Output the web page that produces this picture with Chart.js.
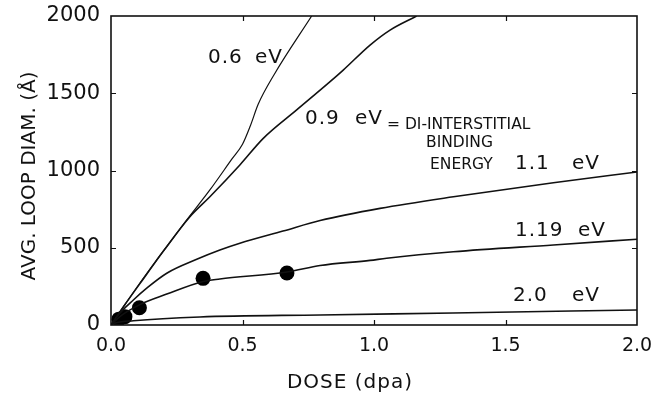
<!DOCTYPE html>
<html>
<head>
<meta charset="utf-8">
<script src="https://cdn.jsdelivr.net/npm/chart.js@4/dist/chart.umd.min.js"></script>
<style>
html,body{margin:0;padding:0;background:#fff;}
#wrap{width:655px;height:400px;}
</style>
</head>
<body>
<div id="wrap"><canvas id="c" width="655" height="400"></canvas></div>
<script>
// ---- data ----
const seriesNames = ['0.6 eV', '0.9 eV', '1.1 eV', '1.19 eV', '2.0 eV'];
const xTickValues = [0, 0.5, 1.0, 1.5, 2.0];
const yTickValues = [0, 500, 1000, 1500, 2000];

const dose06 = [0, 0.05, 0.11, 0.174, 0.288, 0.376, 0.46, 0.50, 0.53, 0.56, 0.62, 0.763];
const diam06 = [0, 125, 272, 421, 680, 874, 1075, 1170, 1290, 1430, 1620, 2000];

const dose09 = [0, 0.05, 0.11, 0.20, 0.30, 0.376, 0.49, 0.579, 0.706, 0.833, 0.883, 0.985, 1.061, 1.162];
const diam09 = [0, 125, 268, 480, 701, 830, 1036, 1208, 1392, 1575, 1650, 1812, 1909, 2000];

const dose11 = [0, 0.03, 0.085, 0.137, 0.212, 0.326, 0.414, 0.49, 0.654, 0.795, 1.023, 1.302, 1.682, 2.0];
const diam11 = [0, 70, 162, 240, 335, 425, 485, 529, 608, 676, 755, 830, 921, 990];

const dose119 = [0, 0.03, 0.11, 0.212, 0.35, 0.414, 0.669, 0.795, 0.985, 1.048, 1.302, 1.682, 2.0];
const diam119 = [0, 50, 132, 200, 282, 298, 343, 385, 418, 432, 474, 518, 555];

const dose20 = [0, 0.02, 0.085, 0.338, 0.795, 1.3, 2.0];
const diam20 = [0, 15, 28, 52, 65, 78, 97];

const doseExp = [0.03, 0.053, 0.108, 0.35, 0.669];
const diamExp = [38, 54, 112, 302, 337];

// ---- helpers ----
const pts = (xs, ys) => xs.map((x, i) => ({x: x, y: ys[i]}));
const lineDs = (name, xs, ys, w) => ({
  label: name, data: pts(xs, ys), showLine: true, borderColor: '#111',
  borderWidth: w, pointRadius: 0, cubicInterpolationMode: 'monotone', fill: false
});

const FONT = "'DejaVu Sans', 'Liberation Sans', sans-serif";

const decor = {
  id: 'decor',
  afterDatasetsDraw(chart) {
    const ctx = chart.ctx, a = chart.chartArea;
    const xs = chart.scales.x, ys = chart.scales.y;
    ctx.save();
    // frame
    ctx.strokeStyle = '#111';
    ctx.lineWidth = 1.6;
    ctx.strokeRect(a.left, a.top, a.right - a.left, a.bottom - a.top);
    // inward tick marks
    ctx.lineWidth = 1.2;
    const tl = 5;
    xTickValues.slice(1, -1).forEach(v => {
      const px = Math.round(xs.getPixelForValue(v)) + 0.5;
      ctx.beginPath();
      ctx.moveTo(px, a.bottom); ctx.lineTo(px, a.bottom - tl);
      ctx.moveTo(px, a.top); ctx.lineTo(px, a.top + tl);
      ctx.stroke();
    });
    yTickValues.slice(1, -1).forEach(v => {
      const py = Math.round(ys.getPixelForValue(v)) + 0.5;
      ctx.beginPath();
      ctx.moveTo(a.left, py); ctx.lineTo(a.left + tl, py);
      ctx.moveTo(a.right, py); ctx.lineTo(a.right - tl, py);
      ctx.stroke();
    });
    // annotations
    ctx.fillStyle = '#111';
    ctx.textBaseline = 'middle';
    ctx.textAlign = 'left';
    const big = '20px ' + FONT;
    const small = '15.5px ' + FONT;
    const put = (t, x, y, f, ls) => {
      ctx.font = f;
      try { ctx.letterSpacing = (ls || 0) + 'px'; } catch (e) {}
      ctx.fillText(t, x, y);
    };
    put('0.6', 208, 58, big, 1);
    put('eV', 255, 58, big, 1);
    put('0.9', 305, 119, big, 1);
    put('eV', 355, 119, big, 1);
    put('= DI-INTERSTITIAL', 387, 125, small, 0);
    put('BINDING', 426, 143, small, 0);
    put('ENERGY', 430, 164.5, small, 0);
    put('1.1', 515, 164, big, 1);
    put('eV', 572, 164, big, 1);
    put('1.19', 515, 231, big, 1);
    put('eV', 578, 231, big, 1);
    put('2.0', 513, 296, big, 1);
    put('eV', 572, 296, big, 1);
    // axis titles
    ctx.textAlign = 'center';
    put('DOSE (dpa)', 350, 383, big, 1);
    ctx.translate(30, 176);
    ctx.rotate(-Math.PI / 2);
    put('AVG. LOOP DIAM. (Å)', 0, 0, '20px ' + FONT, 0);
    ctx.restore();
  }
};

new Chart(document.getElementById('c'), {
  type: 'scatter',
  data: {
    datasets: [
      lineDs(seriesNames[0], dose06, diam06, 1.2),
      lineDs(seriesNames[1], dose09, diam09, 1.6),
      lineDs(seriesNames[2], dose11, diam11, 1.6),
      lineDs(seriesNames[3], dose119, diam119, 1.6),
      lineDs(seriesNames[4], dose20, diam20, 1.6),
      { label: 'data', data: pts(doseExp, diamExp), showLine: false,
        pointRadius: 7.5, pointBackgroundColor: '#000', pointBorderColor: '#000', pointBorderWidth: 0 }
    ]
  },
  options: {
    responsive: false,
    animation: false,
    devicePixelRatio: 1,
    layout: { padding: { top: 16, right: 18, left: 0, bottom: 0 } },
    plugins: { legend: { display: false }, tooltip: { enabled: false } },
    scales: {
      x: {
        type: 'linear', min: 0, max: 2,
        afterBuildTicks: s => { s.ticks = xTickValues.map(v => ({value: v})); },
        afterFit: s => { s.height = 75; s.paddingLeft = 0; s.paddingRight = 0; },
        grid: { display: false, drawTicks: false },
        border: { display: false },
        ticks: { color: '#111', padding: 10, font: { family: FONT, size: 19 },
                 callback: v => Number(v).toFixed(1), maxRotation: 0 }
      },
      y: {
        type: 'linear', min: 0, max: 2000,
        afterBuildTicks: s => { s.ticks = yTickValues.map(v => ({value: v})); },
        afterFit: s => { s.width = 111; s.paddingTop = 0; s.paddingBottom = 0; },
        grid: { display: false, drawTicks: false },
        border: { display: false },
        ticks: { color: '#111', padding: 11, font: { family: FONT, size: 21 },
                 callback: v => String(v) }
      }
    }
  },
  plugins: [decor]
});
</script>
</body>
</html>
